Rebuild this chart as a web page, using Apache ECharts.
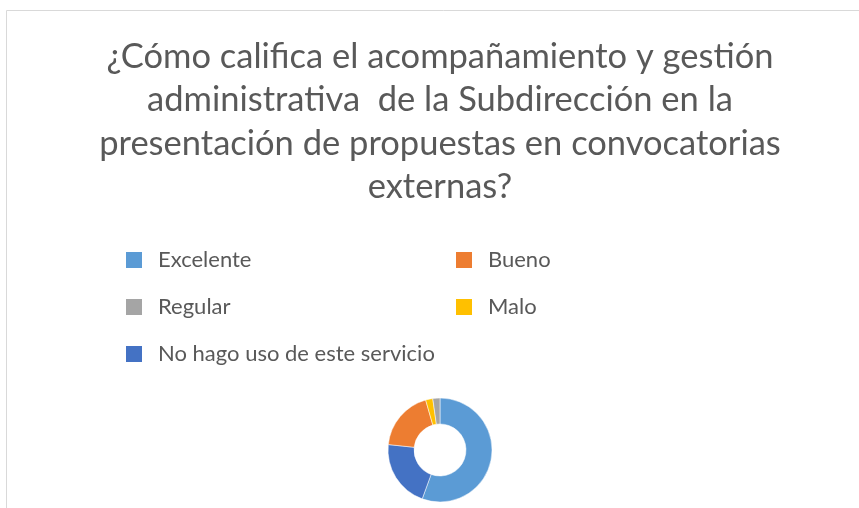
<!DOCTYPE html>
<html>
<head>
<meta charset="utf-8">
<script src="https://cdn.jsdelivr.net/npm/echarts@6/dist/echarts.min.js"></script>
<style>
  html, body { margin: 0; padding: 0; background: #fff; overflow: hidden; }
  #container { width: 880px; height: 508px; }
</style>
</head>
<body>
<div id="container"></div>
<script>
var titleText = '¿Cómo califica el acompañamiento y gestión\nadministrativa  de la Subdirección en la\npresentación de propuestas en convocatorias\nexternas?';

// clockwise order as drawn from 12 o'clock
var categories = ['Excelente', 'No hago uso de este servicio', 'Bueno', 'Malo', 'Regular'];
var values = [50, 19, 17, 2, 2];
var colors = ['#5B9BD5', '#4472C4', '#ED7D31', '#FFC000', '#A5A5A5'];

var dom = document.getElementById('container');
var myChart = echarts.init(dom);

var font = 'Lato';
var legendText = { color: '#595959', fontSize: 22, fontFamily: font, lineHeight: 22, padding: [0, 0, 0, 11] };

var makeLegend = function(name, left, top){
    return {
        data: [name],
        left: left,
        top: top,
        padding: 0,
        icon: 'rect',
        itemWidth: 16,
        itemHeight: 16,
        itemStyle: { borderWidth: 0 },
        selectedMode: false,
        textStyle: legendText
    };
};

var pieData = [];
for (var i = 0; i < categories.length; i++) {
    pieData.push({ name: categories[i], value: values[i], itemStyle: { color: colors[i] } });
}

var option = {
    animation: false,
    title: {
        text: titleText,
        left: 'center',
        top: 30,
        textStyle: {
            color: '#595959',
            fontSize: 34.5,
            fontWeight: 'normal',
            fontFamily: font,
            lineHeight: 43.5
        }
    },
    legend: [
        makeLegend('Excelente', 126, 249),
        makeLegend('Bueno', 456, 249),
        makeLegend('Regular', 126, 296),
        makeLegend('Malo', 456, 296),
        makeLegend('No hago uso de este servicio', 126, 343)
    ],
    graphic: [{
        type: 'rect',
        shape: { x: 6.5, y: 10.5, width: 900, height: 600 },
        style: { fill: 'none', stroke: '#d9d9d9', lineWidth: 1 },
        silent: true
    }],
    series: [{
        type: 'pie',
        center: [440, 450],
        radius: [26, 52],
        startAngle: 90,
        clockwise: true,
        label: { show: false },
        labelLine: { show: false },
        itemStyle: { borderColor: '#fff', borderWidth: 0.5 },
        data: pieData
    }]
};

myChart.setOption(option);
</script>
</body>
</html>
